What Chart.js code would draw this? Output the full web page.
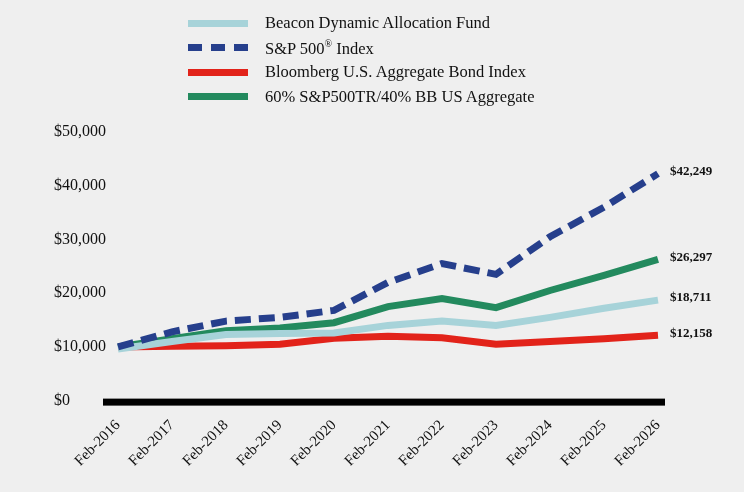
<!DOCTYPE html>
<html><head><meta charset="utf-8">
<script src="https://cdn.jsdelivr.net/npm/chart.js@4"></script>
<style>
body{margin:0;background:#efefef;font-family:"Liberation Serif","Times New Roman",serif;}
#wrap{position:relative;width:744px;height:492px;}
#legend{position:absolute;left:188px;top:11px;font-size:16.5px;color:#111;}
.row{display:flex;align-items:center;height:24.5px;}
.sw{width:60px;height:0;margin-right:17px;}
canvas{position:absolute;left:0;top:0;}
</style></head><body>
<div id="wrap">
<canvas id="c" width="744" height="492"></canvas>
<div id="legend"></div>
</div>
<script>
const categories=["Feb-2016","Feb-2017","Feb-2018","Feb-2019","Feb-2020","Feb-2021","Feb-2022","Feb-2023","Feb-2024","Feb-2025","Feb-2026"];
const beacon=[9600,11000,12300,12500,12600,14000,14800,14000,15500,17200,18711];
const sp500=[10000,12800,14800,15500,16800,22000,25500,23500,30500,36000,42249];
const bond=[10000,10100,10200,10500,11600,12000,11700,10500,11000,11500,12158];
const blend=[10000,11500,13000,13500,14500,17500,19000,17300,20500,23300,26297];
const yTicks=[0,10000,20000,30000,40000,50000];
const series=[
 {label:"Beacon Dynamic Allocation Fund",data:beacon,color:"#a7d3d9",dash:[]},
 {label:"S&P 500<sup style='font-size:10px'>®</sup> Index",data:sp500,color:"#263f8c",dash:[16,8]},
 {label:"Bloomberg U.S. Aggregate Bond Index",data:bond,color:"#e2231a",dash:[]},
 {label:"60% S&P500TR/40% BB US Aggregate",data:blend,color:"#238a5e",dash:[]}
];
const lg=document.getElementById('legend');
series.forEach(s=>{lg.innerHTML+=`<div class="row"><div class="sw" style="border-top:7px ${s.dash.length?'dashed':'solid'} ${s.color}"></div><span>${s.label}</span></div>`;});
const fmt=v=>'$'+v.toLocaleString('en-US');
const endLabels={id:'end',afterDatasetsDraw(ch){const c=ch.ctx;c.save();c.font='bold 13px "Liberation Serif"';c.fillStyle='#111';c.textBaseline='middle';
 ch.data.datasets.forEach((d,i)=>{const m=ch.getDatasetMeta(i).data;const p=m[m.length-1];c.fillText(fmt(d.data[d.data.length-1]),p.x+12,p.y-2);});
 const y=ch.scales.y.getPixelForValue(0);c.fillStyle='#000';c.fillRect(103,y-2,562,7);c.restore();}};
new Chart(document.getElementById('c'),{type:'line',
 data:{labels:categories,datasets:[1,0,3,2].map(i=>({data:series[i].data,borderColor:series[i].color,borderWidth:7,borderDash:series[i].dash,pointRadius:0,tension:0,fill:false,borderCapStyle:'butt'}))},
 options:{responsive:false,animation:false,plugins:{legend:{display:false},tooltip:{enabled:false}},
 layout:{padding:{top:132,right:86,left:54,bottom:14}},
 scales:{x:{offset:false,grid:{display:false,drawTicks:true,tickLength:8,color:'#000'},border:{display:false},
  ticks:{maxRotation:45,minRotation:45,color:'#111',font:{family:'Liberation Serif',size:15},padding:8}},
 y:{min:0,max:50000,afterBuildTicks(a){a.ticks=yTicks.map(v=>({value:v}));},grid:{display:false},border:{display:false},
  ticks:{callback:v=>fmt(v),color:'#111',font:{family:'Liberation Serif',size:16},padding:2,crossAlign:'far'}}}},
 plugins:[endLabels]});
</script></body></html>
